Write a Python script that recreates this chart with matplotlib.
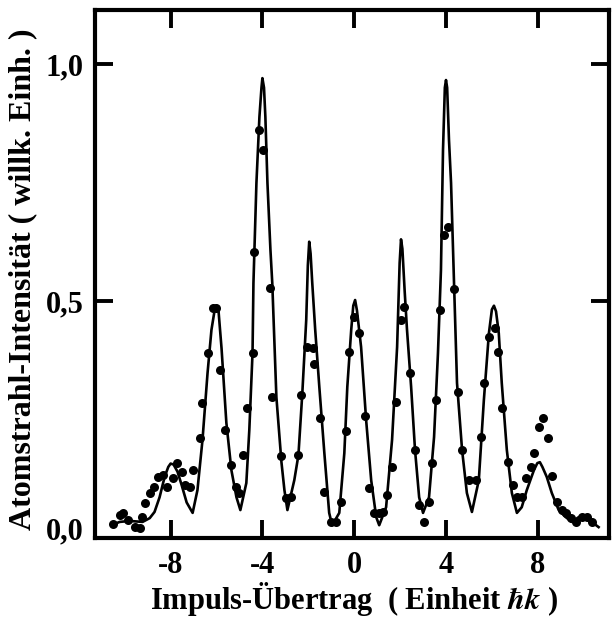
import matplotlib
matplotlib.use("Agg")
import matplotlib.pyplot as plt
import matplotlib.transforms as mtransforms

# Measured atom-beam intensity (dots)
meas_x = [-10.52, -10.22, -10.09, -9.87, -9.57, -9.35, -9.26, -9.13, -8.91, -8.74,
          -8.57, -8.35, -8.17, -7.91, -7.70, -7.52, -7.39, -7.17, -7.04, -6.74,
          -6.61, -6.39, -6.17, -6.00, -5.83, -5.61, -5.35, -5.13, -5.00, -4.83,
          -4.65, -4.43, -4.35, -4.13, -3.96, -3.65, -3.57, -3.20, -2.96, -2.74,
          -2.43, -2.30, -2.04, -1.78, -1.74, -1.50, -1.30, -1.00, -0.78, -0.57,
          -0.37, -0.24, 0.00, 0.22, 0.48, 0.65, 0.87, 1.09, 1.26, 1.43,
          1.65, 1.83, 2.04, 2.17, 2.43, 2.65, 2.83, 3.04, 3.26, 3.39,
          3.57, 3.76, 3.91, 4.09, 4.33, 4.52, 4.70, 5.00, 5.30, 5.52,
          5.65, 5.87, 6.13, 6.26, 6.43, 6.70, 6.91, 7.09, 7.30, 7.48,
          7.70, 7.83, 8.04, 8.24, 8.43, 8.63, 8.83, 9.04, 9.22, 9.43,
          9.65, 9.91, 10.13, 10.35]
meas_y = [0.030, 0.049, 0.053, 0.038, 0.023, 0.021, 0.044, 0.074, 0.095, 0.108,
          0.129, 0.133, 0.108, 0.127, 0.158, 0.139, 0.112, 0.108, 0.143, 0.211,
          0.285, 0.390, 0.485, 0.485, 0.354, 0.228, 0.154, 0.108, 0.095, 0.175,
          0.274, 0.390, 0.603, 0.861, 0.819, 0.527, 0.297, 0.172, 0.084, 0.087,
          0.175, 0.302, 0.403, 0.400, 0.367, 0.253, 0.097, 0.034, 0.034, 0.076,
          0.226, 0.392, 0.466, 0.432, 0.257, 0.105, 0.053, 0.053, 0.055, 0.091,
          0.150, 0.287, 0.460, 0.487, 0.348, 0.186, 0.070, 0.034, 0.076, 0.158,
          0.291, 0.481, 0.639, 0.656, 0.525, 0.309, 0.186, 0.122, 0.122, 0.213,
          0.327, 0.424, 0.443, 0.392, 0.274, 0.160, 0.112, 0.087, 0.087, 0.127,
          0.150, 0.179, 0.234, 0.254, 0.210, 0.130, 0.076, 0.059, 0.053, 0.042,
          0.034, 0.044, 0.044, 0.034]

# Calculated diffraction profile (solid line)
calc_x = [-10.57, -10.22, -9.78, -9.22, -8.91, -8.70, -8.48, -8.26, -8.10, -8.00,
          -7.87, -7.70, -7.52, -7.30, -7.04, -6.83, -6.61, -6.39, -6.22, -6.09,
          -6.00, -5.91, -5.78, -5.57, -5.35, -5.13, -4.96, -4.70, -4.57, -4.43,
          -4.39, -4.26, -4.13, -4.04, -4.00, -3.93, -3.87, -3.78, -3.65, -3.57,
          -3.39, -3.17, -3.04, -2.91, -2.61, -2.43, -2.26, -2.09, -2.02, -1.96,
          -1.90, -1.83, -1.70, -1.52, -1.30, -1.09, -0.96, -0.65, -0.43, -0.30,
          -0.13, -0.04, 0.04, 0.12, 0.30, 0.52, 0.74, 0.96, 1.09, 1.39,
          1.65, 1.87, 1.98, 2.04, 2.10, 2.20, 2.30, 2.48, 2.65, 2.83,
          3.00, 3.26, 3.48, 3.65, 3.78, 3.87, 3.95, 4.00, 4.05, 4.13,
          4.22, 4.35, 4.48, 4.70, 4.91, 5.13, 5.43, 5.65, 5.87, 6.00,
          6.09, 6.18, 6.30, 6.43, 6.65, 6.87, 7.09, 7.30, 7.52, 7.83,
          7.98, 8.09, 8.20, 8.39, 8.61, 8.91, 9.22, 9.48, 9.78, 10.09,
          10.35, 10.65]
calc_y = [0.027, 0.034, 0.036, 0.034, 0.042, 0.055, 0.086, 0.129, 0.150, 0.157,
          0.155, 0.140, 0.112, 0.075, 0.053, 0.101, 0.207, 0.348, 0.439, 0.478,
          0.490, 0.478, 0.400, 0.243, 0.143, 0.086, 0.059, 0.116, 0.228, 0.390,
          0.538, 0.749, 0.888, 0.950, 0.970, 0.950, 0.888, 0.749, 0.608, 0.538,
          0.297, 0.160, 0.101, 0.059, 0.122, 0.175, 0.306, 0.460, 0.575, 0.625,
          0.600, 0.540, 0.440, 0.319, 0.179, 0.053, 0.027, 0.053, 0.179, 0.319,
          0.439, 0.490, 0.502, 0.480, 0.403, 0.249, 0.122, 0.044, 0.027, 0.065,
          0.207, 0.403, 0.580, 0.630, 0.610, 0.520, 0.440, 0.319, 0.186, 0.086,
          0.053, 0.086, 0.213, 0.390, 0.565, 0.819, 0.950, 0.966, 0.950, 0.840,
          0.749, 0.538, 0.327, 0.186, 0.095, 0.055, 0.122, 0.291, 0.432, 0.482,
          0.490, 0.478, 0.432, 0.327, 0.186, 0.095, 0.053, 0.065, 0.101, 0.143,
          0.158, 0.160, 0.150, 0.129, 0.095, 0.059, 0.044, 0.034, 0.044, 0.044,
          0.034, 0.023]

x_ticks = [-8, -4, 0, 4, 8]
x_ticklabels = ["-8", "-4", "0", "4", "8"]
y_ticks = [0.0, 0.5, 1.0]
y_ticklabels = ["0,0", "0,5", "1,0"]

plt.rcParams["font.family"] = ["Liberation Serif", "DejaVu Serif"]
plt.rcParams["font.weight"] = "bold"
plt.rcParams["mathtext.fontset"] = "stix"

fig = plt.figure(figsize=(6.12, 6.17), dpi=100)
ax = fig.add_axes([0.155, 0.128, 0.840, 0.856])

ax.plot(calc_x, calc_y, color="black", lw=1.9, zorder=2)
ax.plot(meas_x, meas_y, "o", color="black", ms=6.5, mew=0, zorder=3)

ax.set_xlim(-11.3, 11.1)
ax.set_ylim(0.0, 1.114)

ax.set_xticks(x_ticks)
ax.set_xticklabels(x_ticklabels)
ax.set_yticks(y_ticks)
ax.set_yticklabels(y_ticklabels)

for s in ax.spines.values():
    s.set_linewidth(3.0)

ax.tick_params(axis="both", which="major", direction="in", length=13, width=2.8,
               top=True, right=True, labelsize=22)
ax.tick_params(axis="x", pad=9)
ax.tick_params(axis="y", pad=8)

# lift the lowest y label slightly off the baseline
lbl0 = ax.get_yticklabels()[0]
lbl0.set_transform(lbl0.get_transform() +
                   mtransforms.ScaledTranslation(0, 10 / 100, fig.dpi_scale_trans))

for lbl in ax.get_xticklabels() + ax.get_yticklabels():
    lbl.set_fontweight("bold")

ax.set_xlabel("Impuls-Übertrag  ( Einheit $\\hbar k$ )", fontsize=22,
              fontweight="bold")
ax.xaxis.label.set_verticalalignment("center")
ax.xaxis.set_label_coords(0.505, -0.116)

ax.set_ylabel("Atomstrahl-Intensität ( willk. Einh. )", fontsize=23,
              fontweight="bold")
ax.yaxis.label.set_verticalalignment("center")
ax.yaxis.set_label_coords(-0.141, 0.49)

fig.savefig("out.png", dpi=100)
